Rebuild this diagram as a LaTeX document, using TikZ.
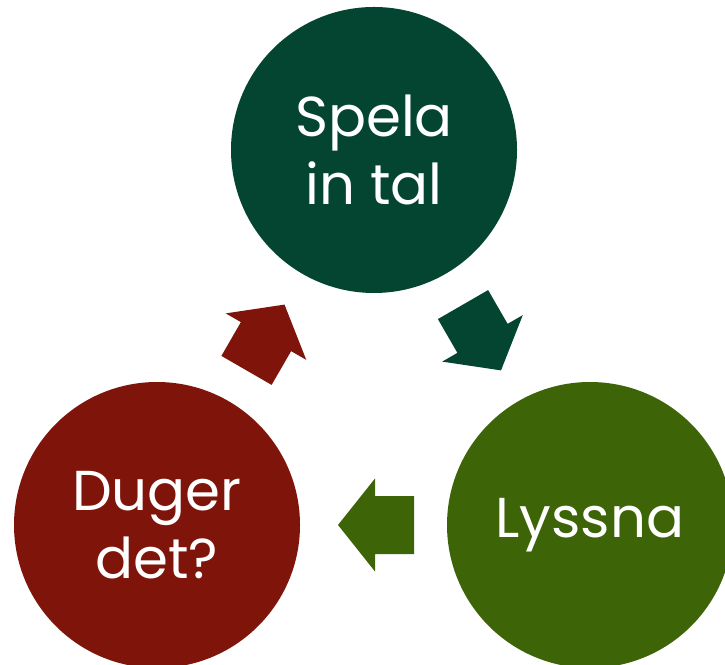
\documentclass[tikz,border=0pt]{standalone}
\usepackage{fontspec}
\setmainfont{Poppins}
\usetikzlibrary{calc}
\definecolor{spelagreen}{RGB}{4,69,50}
\definecolor{lyssnagreen}{RGB}{62,100,8}
\definecolor{dugerred}{RGB}{127,21,10}
\tikzset{
  stage/.style={circle, minimum size=5.72cm, inner sep=0pt, text=white, align=center,
    font=\fontsize{32}{39}\selectfont},
  flow arrow/.pic={
    \fill[pic actions] (-0.76,-0.58) -- (0.02,-0.58) -- (0.02,-0.93) -- (0.76,0)
      -- (0.02,0.93) -- (0.02,0.58) -- (-0.76,0.58) -- cycle;
  }
}
\begin{document}
\begin{tikzpicture}
  \useasboundingbox (0,0) rectangle (14.5,13.28);
  \node[stage, fill=spelagreen] (spela) at (7.48,10.28) {Spela\\in tal};
  \node[stage, fill=lyssnagreen] (lyssna) at (11.8,2.78) {Lyssna};
  \node[stage, fill=dugerred] (duger) at (3.14,2.78) {Duger\\det?};
  % arrows between the stages
  \pic[rotate=-60, fill=spelagreen] at ($(spela)!0.5!(lyssna)$) {flow arrow};
  \pic[rotate=180, fill=lyssnagreen] at ($(lyssna)!0.5!(duger)+(0.05,0)$) {flow arrow};
  \pic[rotate=60, fill=dugerred] at ($(duger)!0.5!(spela)$) {flow arrow};
\end{tikzpicture}
\end{document}
